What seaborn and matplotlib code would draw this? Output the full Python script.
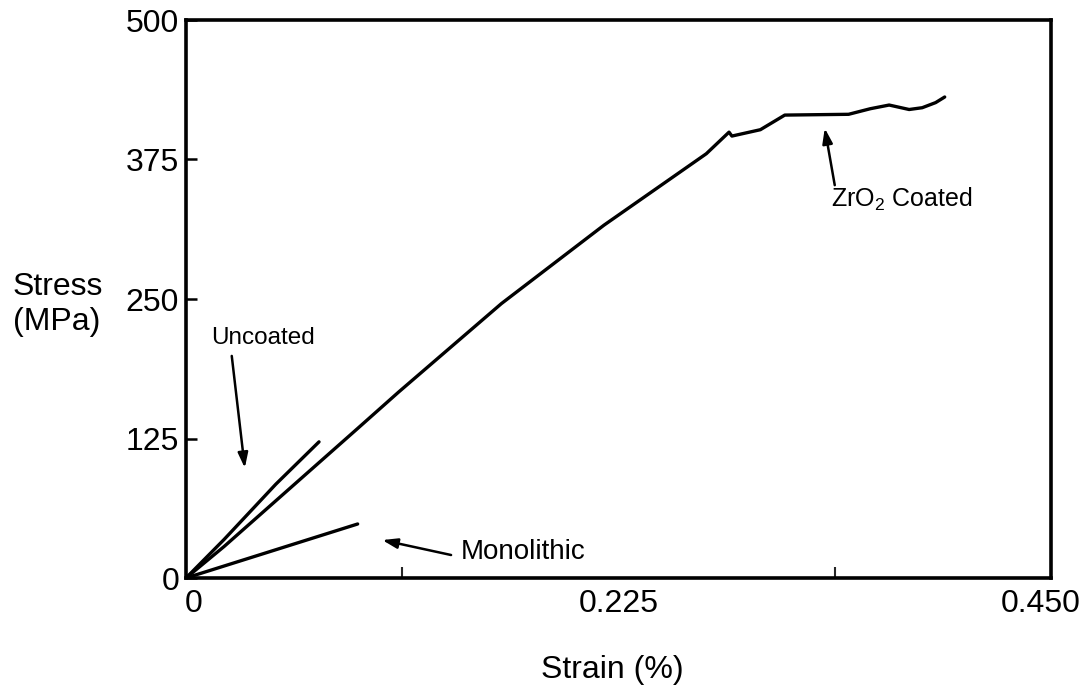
import matplotlib
matplotlib.use("Agg")
import matplotlib.pyplot as plt
import matplotlib.transforms as mtransforms
import seaborn as sns
import pandas as pd
from matplotlib.ticker import FixedLocator

# ---- data ----
zro2_strain = [0.0, 0.0198, 0.0893, 0.1106, 0.1641, 0.2174, 0.2707, 0.2825, 0.2840,
               0.2988, 0.3115, 0.3447, 0.3560, 0.3658, 0.3762, 0.3830, 0.3900, 0.3947]
zro2_stress = [0.0, 28.2, 134.0, 166.6, 245.9, 316.1, 380.2, 399.5, 396.0,
               401.7, 414.8, 415.5, 420.5, 423.8, 419.8, 421.4, 426.0, 431.0]

uncoated_strain = [0.0, 0.0198, 0.0467, 0.0692]
uncoated_stress = [0.0, 34.5, 84.0, 122.0]

mono_strain = [0.0, 0.0893]
mono_stress = [0.0, 48.4]

x_tick_values = [0.0, 0.225, 0.450]
x_tick_labels = ["0", "0.225", "0.450"]
x_minor_ticks = [0.1125, 0.3375]
y_tick_values = [0, 125, 250, 375, 500]
y_tick_labels = ["0", "125", "250", "375", "500"]

sns.set_style("ticks")
plt.rcParams["font.family"] = ["Liberation Sans", "DejaVu Sans"]
plt.rcParams["mathtext.fontset"] = "custom"
plt.rcParams["mathtext.rm"] = "Liberation Sans"
plt.rcParams["mathtext.it"] = "Liberation Sans"
plt.rcParams["text.color"] = "black"
plt.rcParams["axes.labelcolor"] = "black"

fig, ax = plt.subplots(figsize=(10.91, 6.92), dpi=100)
fig.subplots_adjust(left=186/1091, right=1051/1091, bottom=1-578/692, top=1-20/692)

df_z = pd.DataFrame({"strain": zro2_strain, "stress": zro2_stress})
df_u = pd.DataFrame({"strain": uncoated_strain, "stress": uncoated_stress})
df_m = pd.DataFrame({"strain": mono_strain, "stress": mono_stress})

for d in (df_z, df_u, df_m):
    sns.lineplot(data=d, x="strain", y="stress", color="black", linewidth=2.4,
                 ax=ax, legend=False, solid_capstyle="round")

ax.set_xlim(0, 0.45)
ax.set_ylim(0, 500)

for s in ax.spines.values():
    s.set_visible(True)
    s.set_linewidth(2.6)
    s.set_color("black")

ax.xaxis.set_major_locator(FixedLocator(x_tick_values))
ax.set_xticklabels(x_tick_labels)
ax.xaxis.set_minor_locator(FixedLocator(x_minor_ticks))
ax.set_yticks(y_tick_values)
ax.set_yticklabels(y_tick_labels)
ax.tick_params(axis="x", which="major", direction="in", length=0, width=1.5,
               labelsize=23, pad=8, colors="black")
ax.tick_params(axis="x", which="minor", direction="in", length=8, width=1.5)
ax.tick_params(axis="y", which="major", direction="in", length=8, width=1.8,
               labelsize=23, pad=5, colors="black")
ax.tick_params(top=False, right=False)

# keep the last x label inside the figure, as in the reference
last = ax.get_xticklabels()[-1]
last.set_transform(last.get_transform() +
                   mtransforms.ScaledTranslation(-10/100, 0, fig.dpi_scale_trans))
first = ax.get_xticklabels()[0]
first.set_transform(first.get_transform() +
                    mtransforms.ScaledTranslation(8/100, 0, fig.dpi_scale_trans))

ax.set_xlabel("Strain (%)", fontsize=23, va="center")
ax.xaxis.set_label_coords(0.493, -0.165)
ax.set_ylabel("Stress\n(MPa)", fontsize=23, rotation=0, ha="center", va="center",
              multialignment="left")
ax.yaxis.set_label_coords(-0.148, 0.49)

arrow = dict(arrowstyle="-|>,head_length=0.9,head_width=0.3", color="black",
             lw=1.8, shrinkA=0, shrinkB=0)

ax.text(0.0399, 215, "Uncoated", fontsize=17.5, ha="center", va="center")
ax.annotate("", xy=(0.0306, 98.6), xytext=(0.0238, 199), arrowprops=arrow)

ax.text(0.1431, 23.3, "Monolithic", fontsize=20, ha="left", va="center")
ax.annotate("", xy=(0.1021, 34), xytext=(0.1379, 20.6), arrowprops=arrow)

ax.text(0.3354, 339.6, r"ZrO$_\mathrm{2}$ Coated", fontsize=18, ha="left", va="center")
ax.annotate("", xy=(0.3323, 403), xytext=(0.3375, 352), arrowprops=arrow)

fig.savefig("out.png", dpi=100, facecolor="white")
